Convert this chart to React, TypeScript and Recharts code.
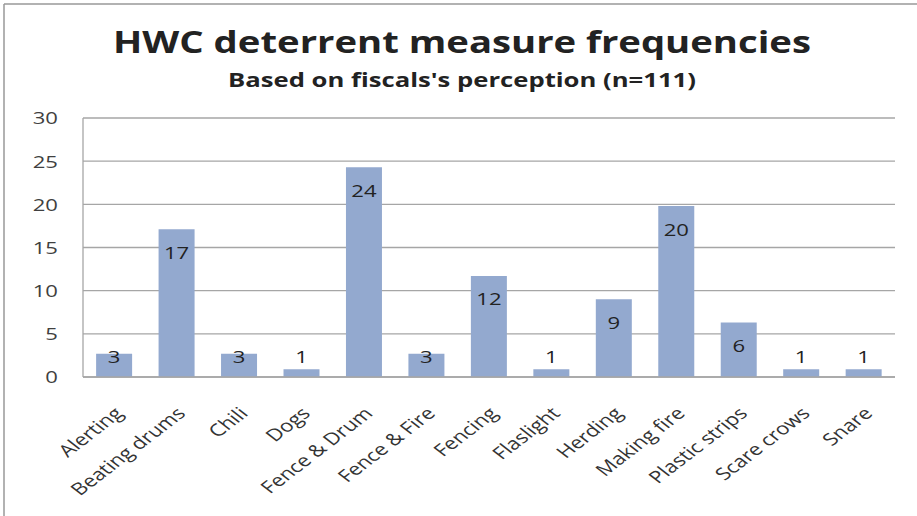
import React from "react";
import { BarChart, Bar, XAxis, YAxis, CartesianGrid, LabelList } from "recharts";

const categories = [
  "Alerting",
  "Beating drums",
  "Chili",
  "Dogs",
  "Fence & Drum",
  "Fence & Fire",
  "Fencing",
  "Flaslight",
  "Herding",
  "Making fire",
  "Plastic strips",
  "Scare crows",
  "Snare",
];
const percentages = [2.7, 17.1, 2.7, 0.9, 24.3, 2.7, 11.7, 0.9, 9.0, 19.8, 6.3, 0.9, 0.9];
const yTicks = [0, 5, 10, 15, 20, 25, 30];

const data = categories.map((name, i) => ({ name, value: percentages[i] }));

const FONT = "'Open Sans', 'Noto Sans', sans-serif";
const SX = 1.3;

const CategoryTick = (props: any) => {
  const { x, y, payload } = props;
  return (
    <g transform={`translate(${x + 4},${y + 25}) scale(${SX},1) rotate(-45)`}>
      <text
        x={0}
        y={0}
        textAnchor="end"
        dominantBaseline="central"
        fontFamily={FONT}
        fontSize={17}
        fill="#333"
      >
        {payload.value}
      </text>
    </g>
  );
};

const ValueTick = (props: any) => {
  const { y, payload } = props;
  return (
    <g transform={`translate(58,${y}) scale(${SX},1)`}>
      <text
        x={0}
        y={0}
        textAnchor="end"
        dominantBaseline="central"
        fontFamily={FONT}
        fontSize={17}
        fill="#404040"
      >
        {payload.value}
      </text>
    </g>
  );
};

const ValueLabel = (props: any) => {
  const { x, y, width, height, value } = props;
  const cy = Math.min(y + 23, y + height - 20);
  return (
    <g transform={`translate(${x + width / 2},${cy}) scale(${SX},1)`}>
      <text
        x={0}
        y={0}
        textAnchor="middle"
        dominantBaseline="central"
        fontFamily={FONT}
        fontSize={17}
        fill="#222"
      >
        {Math.round(value)}
      </text>
    </g>
  );
};

export default function App() {
  return (
    <div style={{ position: "absolute", left: 0, top: 0, width: 917, height: 516, background: "#fff" }}>
      <svg style={{ position: "absolute", left: 0, top: 0 }} width={917} height={516}>
        <line x1={4} y1={4} x2={917} y2={4} stroke="#999" strokeWidth={1.5} />
        <line x1={4} y1={4} x2={4} y2={516} stroke="#999" strokeWidth={1.5} />
        <text
          x={462}
          y={53}
          textAnchor="middle"
          fontFamily={FONT}
          fontWeight={700}
          fontSize={30}
          fill="#222"
          textLength={698}
          lengthAdjust="spacingAndGlyphs"
        >
          HWC deterrent measure frequencies
        </text>
        <text
          x={462}
          y={87}
          textAnchor="middle"
          fontFamily={FONT}
          fontWeight={700}
          fontSize={19}
          fill="#222"
          textLength={468}
          lengthAdjust="spacingAndGlyphs"
        >
          Based on fiscals's perception (n=111)
        </text>
      </svg>
      <div style={{ position: "absolute", left: 0, top: 0 }}>
        <BarChart
          width={917}
          height={516}
          data={data}
          margin={{ top: 118, right: 22, bottom: 0, left: 0 }}
          barCategoryGap="21%"
        >
          <CartesianGrid vertical={false} stroke="#a6a6a6" strokeWidth={1.3} />
          <XAxis
            dataKey="name"
            interval={0}
            tickLine={false}
            axisLine={{ stroke: "#a6a6a6", strokeWidth: 1.3 }}
            tick={<CategoryTick />}
            height={139}
          />
          <YAxis
            domain={[0, 30]}
            ticks={yTicks}
            interval={0}
            width={83}
            tickLine={false}
            axisLine={{ stroke: "#a6a6a6", strokeWidth: 1.3 }}
            tick={<ValueTick />}
          />
          <Bar dataKey="value" fill="#93a9cf" isAnimationActive={false}>
            <LabelList dataKey="value" content={<ValueLabel />} />
          </Bar>
        </BarChart>
      </div>
    </div>
  );
}
